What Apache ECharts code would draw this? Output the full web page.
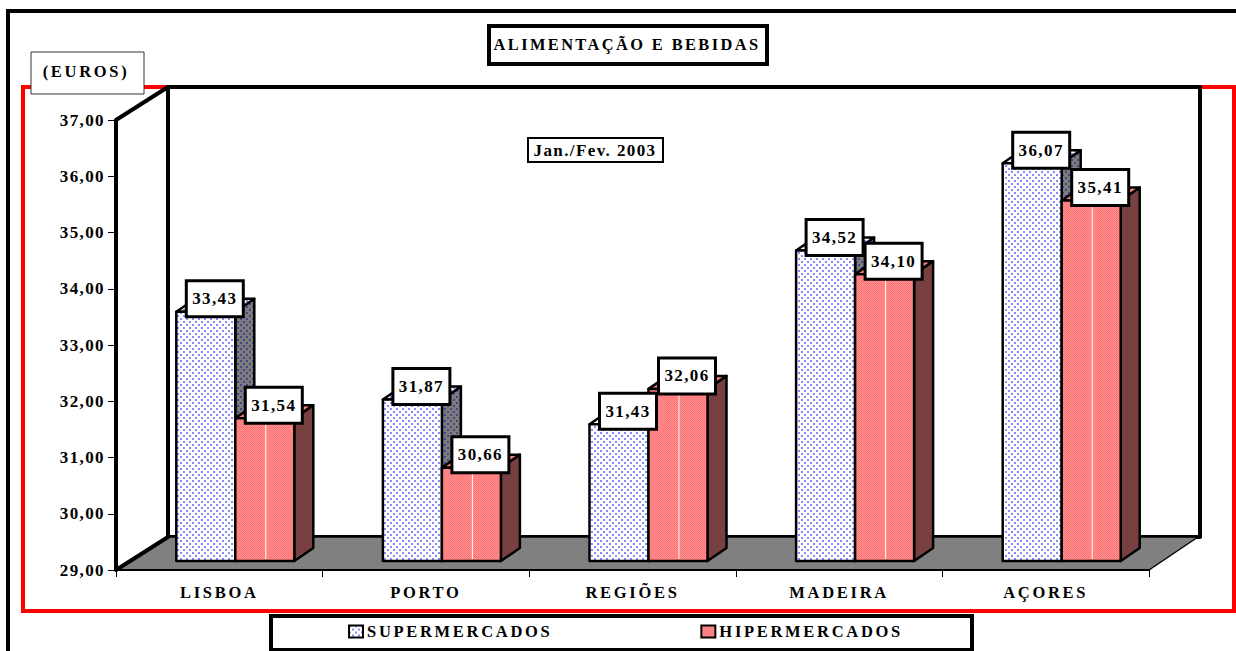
<!DOCTYPE html>
<html>
<head>
<meta charset="utf-8">
<script src="https://cdn.jsdelivr.net/npm/echarts@6/dist/echarts.min.js"></script>
<style>
    html, body { margin: 0; padding: 0; background: #fff; }
    #chart { width: 1236px; height: 651px; letter-spacing: 1.4px; }
    /* capitals are spaced wider than the numbers */
    #chart text[style*="16.5px"] { letter-spacing: 2.7px; }
    #chart text[style*="16.4px"] { letter-spacing: 2.4px; }
</style>
</head>
<body>
<div id="chart"></div>
<script>
const categories = ["LISBOA", "PORTO", "REGIÕES", "MADEIRA", "AÇORES"];
const superValues = [33.43, 31.87, 31.43, 34.52, 36.07];
const hiperValues = [31.54, 30.66, 32.06, 34.10, 35.41];
const yMin = 29;
const yMax = 37;
const yStep = 1;

const serif = '"Liberation Serif", "Times New Roman", serif';
const numFont = 'bold 17px ' + serif;
const capFont = 'bold 16.5px ' + serif;
const titleFont = 'bold 16.4px ' + serif;

function pattern(size, bg, dot, cells) {
    const c = document.createElement('canvas');
    c.width = size;
    c.height = size;
    const ctx = c.getContext('2d');
    ctx.fillStyle = bg;
    ctx.fillRect(0, 0, size, size);
    ctx.fillStyle = dot;
    cells.forEach(p => ctx.fillRect(p[0], p[1], p[2], p[2]));
    return { image: c, repeat: 'repeat', imageWidth: size, imageHeight: size };
}
const sparse = [[0, 0, 2], [3, 3, 2]];
const dense = [[0, 0, 1], [2, 0, 1], [1, 1, 1], [3, 1, 1], [0, 2, 1], [2, 2, 1], [1, 3, 1], [3, 3, 1]];
const blueFront = pattern(6, '#ffffff', '#8a8aff', sparse);
const blueSide = pattern(6, '#7c7c7c', '#46468c', sparse);
const redFront = pattern(4, '#ff8f8f', '#ff7575', dense);
const redSide = pattern(4, '#804848', '#703838', dense);

// room depth and bar depth
const roomDx = 52, roomDy = -33;
const barDx = 19, barDy = -13;
const barW = 59, barShift = 16, liftY = -9;
const tagDx = 9, tagDy = -13;

function fmt(v) {
    return v.toFixed(2).replace('.', ',');
}

function poly(points, fill, lineWidth) {
    return {
        type: 'polygon',
        shape: { points: points },
        style: { fill: fill, stroke: '#000', lineWidth: lineWidth, lineJoin: 'round' }
    };
}

function renderRoom(params) {
    const s = params.coordSys;
    const l = s.x, t = s.y, r = s.x + s.width, b = s.y + s.height;
    return {
        type: 'group',
        children: [
            poly([[l + roomDx, t + roomDy], [r + roomDx - 1, t + roomDy], [r + roomDx - 1, b + roomDy], [l + roomDx, b + roomDy]], '#fff', 4),
            poly([[l, b], [r, b], [r + roomDx - 3, b + roomDy], [l + roomDx, b + roomDy]], '#808080', 1.5),
            poly([[l, t], [l + roomDx, t + roomDy], [l + roomDx, b + roomDy], [l, b]], '#fff', 4)
        ]
    };
}

function barRenderer(slot, front, side, top) {
    return function (params, api) {
        const v = api.value(1);
        const p0 = api.coord([api.value(0), yMin]);
        const p1 = api.coord([api.value(0), v]);
        const x = p0[0] + barShift - barW + slot * barW;
        const y0 = p0[1] + liftY;
        const y1 = p1[1] + liftY;
        const cx = x + barW / 2;
        const children = [
            poly([[x + barW, y1], [x + barW + barDx, y1 + barDy], [x + barW + barDx, y0 + barDy], [x + barW, y0]], side, 2.5),
            poly([[x, y1], [x + barDx, y1 + barDy], [x + barW + barDx, y1 + barDy], [x + barW, y1]], top, 2.5),
            poly([[x, y1], [x + barW, y1], [x + barW, y0], [x, y0]], front, 2.5),
            {
                type: 'rect',
                shape: { x: cx + tagDx - 28.5, y: y1 + tagDy - 18, width: 57, height: 36 },
                style: { fill: '#fff', stroke: '#000', lineWidth: 3 },
                z2: 100
            },
            {
                type: 'text',
                x: cx + tagDx,
                y: y1 + tagDy,
                style: {
                    text: fmt(v), font: numFont, fill: '#000',
                    align: 'center', verticalAlign: 'middle'
                },
                z2: 101
            }
        ];
        if (slot === 1) {
            children.splice(3, 0, {
                type: 'line',
                shape: { x1: cx + 1, y1: y1 + 2, x2: cx + 1, y2: y0 - 2 },
                style: { stroke: '#fff', lineWidth: 1 }
            });
        }
        return { type: 'group', children: children };
    };
}

function box(x, y, w, h, lineWidth, stroke, z) {
    return {
        type: 'rect',
        z: z,
        shape: { x: x, y: y, width: w, height: h },
        style: { fill: '#fff', stroke: stroke, lineWidth: lineWidth }
    };
}

function label(text, x, y, font, z) {
    return {
        type: 'text',
        z: z,
        x: x,
        y: y,
        style: { text: text, font: font, fill: '#000', align: 'center', verticalAlign: 'middle' }
    };
}

const chart = echarts.init(document.getElementById('chart'), null, { renderer: 'svg' });

const option = {
    animation: false,
    backgroundColor: '#fff',
    grid: { left: 116, top: 120, width: 1033, height: 450 },
    xAxis: {
        type: 'category',
        data: categories,
        axisLine: { lineStyle: { color: '#000', width: 2 } },
        axisTick: { show: true, length: 7, lineStyle: { color: '#000', width: 1 } },
        axisLabel: { margin: 14, color: '#000', fontFamily: serif, fontWeight: 'bold', fontSize: 16.5 },
        z: 5
    },
    yAxis: {
        type: 'value',
        min: yMin,
        max: yMax,
        interval: yStep,
        splitLine: { show: false },
        axisLine: { show: true, lineStyle: { color: '#000', width: 2 } },
        axisTick: { show: true, length: 8, lineStyle: { color: '#000', width: 1 } },
        axisLabel: {
            margin: 11, color: '#000', fontFamily: serif, fontWeight: 'bold', fontSize: 17,
            formatter: v => fmt(v)
        },
        z: 5
    },
    legend: {
        data: ['SUPERMERCADOS', 'HIPERMERCADOS'],
        left: 348,
        top: 623,
        padding: 0,
        itemWidth: 14,
        itemHeight: 12,
        itemGap: 183,
        icon: 'rect',
        textStyle: { color: '#000', fontFamily: serif, fontWeight: 'bold', fontSize: 16.5, padding: [0, 0, 0, -1] },
        z: 60
    },
    graphic: [
        // outer sheet frame, runs off the page right and below
        box(8, 11, 1400, 800, 4, '#000', -2),
        box(23, 87, 1211, 524, 4, '#f00', -1),
        box(489, 26, 278, 38, 4, '#000', 50),
        label('ALIMENTAÇÃO E BEBIDAS', 627, 44, titleFont, 51),
        box(31, 52, 113, 42, 1, '#333', 50),
        label('(EUROS)', 86, 71, capFont, 51),
        box(528, 138, 135, 24, 2, '#000', 50),
        label('Jan./Fev. 2003', 595, 150, numFont, 51),
        box(271, 616, 701, 34, 4, '#000', 50)
    ],
    series: [
        {
            name: 'room',
            type: 'custom',
            silent: true,
            z: 1,
            data: [[0, yMin]],
            encode: { x: 0, y: 1 },
            renderItem: renderRoom
        },
        {
            name: 'SUPERMERCADOS',
            type: 'custom',
            z: 3,
            itemStyle: { color: blueFront, borderColor: '#000', borderWidth: 2.5 },
            data: superValues.map((v, i) => [i, v]),
            encode: { x: 0, y: 1 },
            renderItem: barRenderer(0, blueFront, blueSide, blueFront)
        },
        {
            name: 'HIPERMERCADOS',
            type: 'custom',
            z: 3,
            itemStyle: { color: redFront, borderColor: '#000', borderWidth: 2.5 },
            data: hiperValues.map((v, i) => [i, v]),
            encode: { x: 0, y: 1 },
            renderItem: barRenderer(1, redFront, redSide, redFront)
        }
    ]
};
chart.setOption(option);
</script>
</body>
</html>
